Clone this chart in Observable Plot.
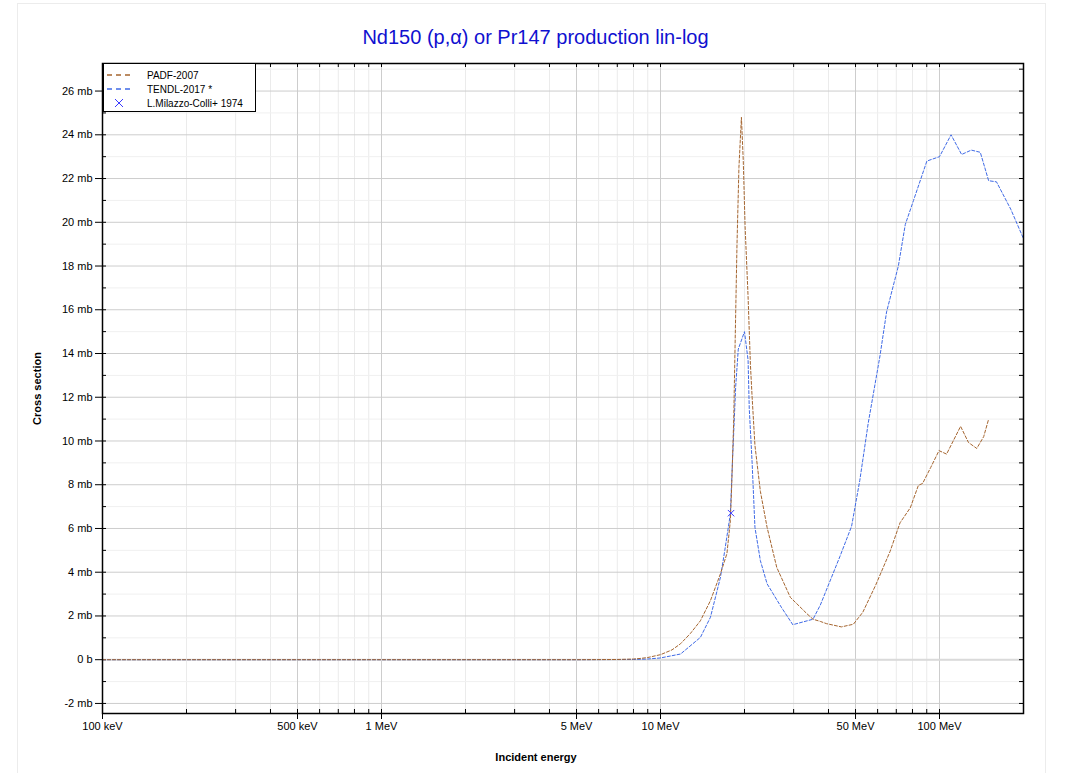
<!DOCTYPE html>
<html>
<head>
<meta charset="utf-8">
<script src="https://cdn.jsdelivr.net/npm/d3@7"></script>
<script src="https://cdn.jsdelivr.net/npm/@observablehq/plot@0.6"></script>
<style>
  body { margin: 0; background: #fff; font-family: "Liberation Sans", Arial, sans-serif; }
  #wrap { position: relative; width: 1071px; height: 773px; overflow: hidden; }
  #panel { position: absolute; left: 17px; top: 3px; width: 1029px; height: 790px; border: 1px solid #ececec; box-sizing: border-box; }
  #title { position: absolute; left: 0; top: 24px; width: 1071px; text-align: center; font-size: 20px; line-height: 26px; color: #1010d0; }
  #chart { position: absolute; left: 0; top: 0; }
  #legend { position: absolute; left: 103px; top: 63px; }
</style>
</head>
<body>
<div id="wrap">
  <div id="panel"></div>
  <div id="chart"></div>
  <div id="title">Nd150 (p,α) or Pr147 production lin-log</div>
  <div id="legend"></div>
</div>
<script>
// ---- data (energies in MeV, cross sections in mb) ----
const padfE = [0.1, 1, 5, 7, 8, 8.5, 9, 10, 11, 11.8, 12.8, 13.9, 15.1, 16.4, 17.3, 17.8, 18.0, 18.3, 18.5, 18.8, 19.1, 19.5, 19.8, 20.1, 20.6, 21.0, 21.3, 21.8, 22.8, 24.1, 26.1, 29.2, 33.5, 35.2, 37.4, 39.3, 44.5, 49.1, 53.1, 59, 66.5, 72.2, 78.6, 84, 87, 93, 99.6, 106, 119, 127, 136, 144, 150];
const padfV = [0, 0, 0, 0.01, 0.03, 0.06, 0.1, 0.23, 0.45, 0.73, 1.2, 1.78, 2.7, 3.93, 4.85, 6.36, 8.0, 11.0, 14.3, 19.0, 22.5, 24.8, 22.8, 19.8, 16.6, 13.5, 12.0, 9.8, 7.7, 6.05, 4.22, 2.85, 2.1, 1.85, 1.75, 1.65, 1.5, 1.62, 2.17, 3.4, 4.95, 6.26, 6.95, 7.97, 8.06, 8.79, 9.56, 9.4, 10.67, 9.93, 9.66, 10.2, 11.0];

const tendlE = [0.1, 1, 5, 8, 9, 10, 11.8, 13.9, 15.1, 16.4, 17.0, 17.8, 18.1, 18.6, 19.0, 20.0, 20.6, 20.8, 21.3, 21.8, 22.8, 24.1, 27.1, 29.8, 35.2, 37.4, 43.9, 48.4, 51.8, 55.5, 61.2, 64.6, 71.2, 75.4, 80.7, 90.1, 100, 110, 120, 130, 140, 150, 160, 180, 200];
const tendlV = [0, 0, 0, 0.01, 0.03, 0.08, 0.26, 1.02, 1.94, 3.77, 5.0, 6.67, 9.0, 12.5, 14.2, 15.0, 13.7, 11.5, 9.0, 6.05, 4.53, 3.47, 2.4, 1.6, 1.85, 2.5, 4.7, 6.1, 8.2, 10.8, 13.9, 15.9, 18.0, 19.9, 21.0, 22.8, 23.0, 24.0, 23.1, 23.3, 23.2, 21.9, 21.85, 20.6, 19.25];

const expE = [17.9];
const expV = [6.7];

const seriesNames = ["PADF-2007", "TENDL-2017 *", "L.Milazzo-Colli+ 1974"];
const seriesColors = ["#a5652f", "#3f6ae6", "#3a3aff"];

const xMajor = [0.1, 0.5, 1, 5, 10, 50, 100];
const xLabels = ["100 keV", "500 keV", "1 MeV", "5 MeV", "10 MeV", "50 MeV", "100 MeV"];
const xMinor = [0.2, 0.3, 0.4, 0.6, 0.7, 0.8, 0.9, 2, 3, 4, 6, 7, 8, 9, 20, 30, 40, 60, 70, 80, 90];
const yMajor = [-2, 0, 2, 4, 6, 8, 10, 12, 14, 16, 18, 20, 22, 24, 26];
const yMinor = [-1, 1, 3, 5, 7, 9, 11, 13, 15, 17, 19, 21, 23, 25, 27];

// ---- build ----
const padf = padfE.map((e, i) => ({e, v: padfV[i]}));
const tendl = tendlE.map((e, i) => ({e, v: tendlV[i]}));
const exp = expE.map((e, i) => ({e, v: expV[i]}));
const xTicks = xMajor.map((e, i) => ({e, label: xLabels[i]}));

const W = 1071, H = 773, mL = 102, mR = 48, mT = 63, mB = 60;
const pw = W - mL - mR, ph = H - mT - mB;
const xAll = xMajor.concat(xMinor);
const yAll = yMajor.concat(yMinor);
const yFmt = d => d === 0 ? "0 b" : `${d} mb`;

const chart = Plot.plot({
  width: W, height: H,
  marginLeft: mL, marginRight: mR, marginTop: mT, marginBottom: mB,
  style: {background: "transparent", fontFamily: "'Liberation Sans', Arial, sans-serif", fontSize: "11px", color: "black", overflow: "visible"},
  x: {type: "log", domain: [0.1, 200], axis: null},
  y: {domain: [-2.46, 27.26]},
  marks: [
    Plot.ruleX(xMinor, {stroke: "#ebebeb"}),
    Plot.ruleY(yMinor, {stroke: "#f0f0f0"}),
    Plot.ruleX(xMajor, {stroke: "#cdcdcd"}),
    Plot.ruleY(yMajor, {stroke: "#cdcdcd"}),
    Plot.ruleY([0], {stroke: "#dadada", strokeWidth: 2}),
    Plot.tickX(xAll, {x: d => d, insetTop: ph - 4, stroke: "black"}),
    Plot.tickX(xAll, {x: d => d, insetBottom: ph - 4, stroke: "black"}),
    Plot.tickY(yAll, {y: d => d, insetRight: pw - 4, stroke: "black"}),
    Plot.tickY(yAll, {y: d => d, insetLeft: pw - 4, stroke: "black"}),
    Plot.tickX(xMajor, {x: d => d, insetTop: ph, insetBottom: -6, stroke: "black"}),
    Plot.text(xTicks, {x: "e", text: "label", frameAnchor: "bottom", dy: 13, lineAnchor: "middle", textAnchor: "middle", fontSize: 11, fill: "black"}),
    Plot.axisY({ticks: yMajor, tickFormat: yFmt, tickSize: 7, tickPadding: 3, label: null}),
    Plot.line(tendl, {x: "e", y: "v", stroke: seriesColors[1], strokeWidth: 1, strokeDasharray: "3,2", clip: true}),
    Plot.line(padf, {x: "e", y: "v", stroke: seriesColors[0], strokeWidth: 1, strokeDasharray: "3,2", clip: true}),
    Plot.dot(exp, {x: "e", y: "v", symbol: "times", r: 3, stroke: seriesColors[2], strokeWidth: 1}),
    Plot.frame({stroke: "black", strokeWidth: 1.5}),
    Plot.text(["Cross section"], {text: d => d, frameAnchor: "left", dx: -65, rotate: -90, textAnchor: "middle", lineAnchor: "middle", fontWeight: "bold", fontSize: 11}),
    Plot.text(["Incident energy"], {text: d => d, frameAnchor: "bottom", dx: -27, dy: 44, textAnchor: "middle", lineAnchor: "middle", fontWeight: "bold", fontSize: 11})
  ]
});
document.getElementById("chart").appendChild(chart);

// ---- legend ----
const lg = d3.select("#legend").append("svg").attr("width", 154).attr("height", 50)
  .style("font-family", "'Liberation Sans', Arial, sans-serif").style("font-size", "10px");
lg.append("rect").attr("x", 0.5).attr("y", 0.5).attr("width", 152).attr("height", 48).attr("fill", "#fff").attr("stroke", "#000");
seriesNames.forEach((name, i) => {
  const cy = 12 + i * 14;
  if (i < 2) {
    lg.append("line").attr("x1", 4).attr("x2", 29).attr("y1", cy).attr("y2", cy)
      .attr("stroke", seriesColors[i]).attr("stroke-width", 1.5).attr("stroke-dasharray", "5,4");
  } else {
    lg.append("path").attr("d", `M${16 - 4},${cy - 4}L${16 + 4},${cy + 4}M${16 - 4},${cy + 4}L${16 + 4},${cy - 4}`)
      .attr("stroke", seriesColors[i]).attr("stroke-width", 1);
  }
  lg.append("text").attr("x", 44).attr("y", cy).attr("dy", "0.35em").attr("fill", "#000").text(name);
});
</script>
</body>
</html>
